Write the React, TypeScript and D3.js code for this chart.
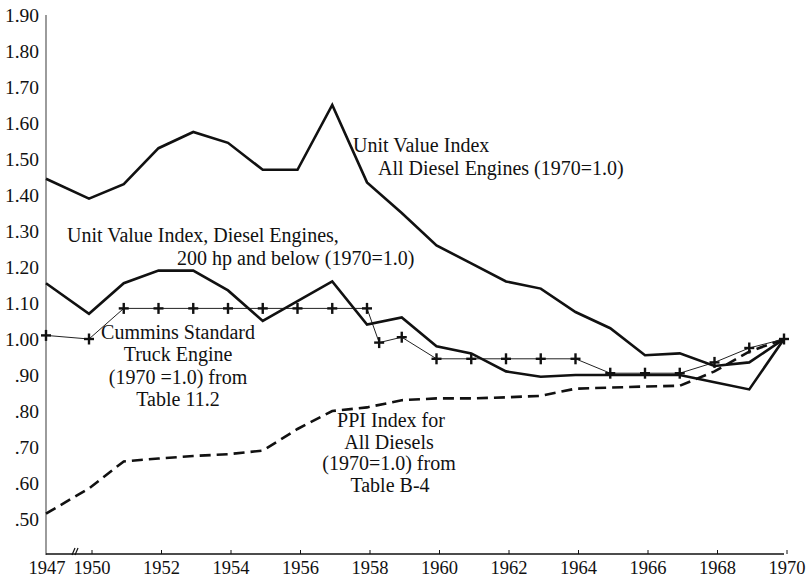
import { useEffect, useRef } from 'react'
import * as d3 from 'd3'

// years on the x axis (1947 then a break to 1950)
const years = [1947, 1950, 1951, 1952, 1953, 1954, 1955, 1956, 1957, 1958, 1959, 1960, 1961, 1962, 1963, 1964, 1965, 1966, 1967, 1968, 1969, 1970]

const allDiesel = [1.445, 1.39, 1.43, 1.53, 1.575, 1.545, 1.47, 1.47, 1.65, 1.435, 1.35, 1.26, 1.21, 1.16, 1.14, 1.075, 1.03, 0.955, 0.96, 0.925, 0.935, 1.0]
const diesel200hp = [1.155, 1.07, 1.155, 1.19, 1.19, 1.135, 1.05, 1.105, 1.16, 1.04, 1.06, 0.98, 0.96, 0.91, 0.895, 0.9, 0.9, 0.9, 0.9, 0.88, 0.86, 1.0]
const ppiDiesels = [0.515, 0.585, 0.66, 0.668, 0.675, 0.68, 0.69, 0.75, 0.8, 0.81, 0.83, 0.835, 0.835, 0.838, 0.842, 0.862, 0.865, 0.868, 0.87, 0.91, 0.965, 1.0]

// Cummins series has two readings in 1958
const cumminsYears = [1947, 1950, 1951, 1952, 1953, 1954, 1955, 1956, 1957, 1958, 1958.35, 1959, 1960, 1961, 1962, 1963, 1964, 1965, 1966, 1967, 1968, 1969, 1970]
const cummins = [1.01, 1.0, 1.085, 1.085, 1.085, 1.085, 1.085, 1.085, 1.085, 1.085, 0.99, 1.005, 0.945, 0.945, 0.945, 0.945, 0.945, 0.905, 0.905, 0.905, 0.935, 0.975, 1.0]

const xTicks = [1947, 1950, 1952, 1954, 1956, 1958, 1960, 1962, 1964, 1966, 1968, 1970]
const yTicks = [1.9, 1.8, 1.7, 1.6, 1.5, 1.4, 1.3, 1.2, 1.1, 1.0, 0.9, 0.8, 0.7, 0.6, 0.5]

const labelAll = ['Unit Value Index', 'All Diesel Engines (1970=1.0)']
const label200 = ['Unit Value Index, Diesel Engines,', '200 hp and below (1970=1.0)']
const labelCummins = ['Cummins Standard', 'Truck Engine', '(1970 =1.0) from', 'Table 11.2']
const labelPpi = ['PPI Index for', 'All Diesels', '(1970=1.0) from', 'Table B-4']

const FONT = 'Liberation Serif, Times New Roman, DejaVu Serif, serif'

export default function App() {
  const svgRef = useRef<SVGSVGElement>(null)

  useEffect(() => {
    if (!svgRef.current) return
    const svg = d3.select(svgRef.current)
    svg.selectAll('*').remove()

    const width = 806
    const height = 578

    svg.attr('width', width).attr('height', height)

    // broken axis: 1947 sits on the y axis, 1950..1970 evenly spaced
    const x = d3.scaleLinear().domain([1947, 1950, 1970]).range([46, 89, 784])
    const y = d3.scaleLinear().domain([0.4, 1.9]).range([555, 15])

    // axes
    svg.append('line')
      .attr('x1', x(1947)).attr('x2', x(1947))
      .attr('y1', y(1.9)).attr('y2', y(0.4))
      .attr('stroke', '#666').attr('stroke-width', 1.3)

    svg.append('line')
      .attr('x1', x(1947)).attr('x2', x(1970))
      .attr('y1', 554).attr('y2', 554)
      .attr('stroke', '#111').attr('stroke-width', 1.6)

    svg.selectAll('.xtick')
      .data(xTicks.filter(d => d !== 1947))
      .enter()
      .append('line')
      .attr('class', 'xtick')
      .attr('x1', d => x(d) + 3).attr('x2', d => x(d) + 3)
      .attr('y1', 554).attr('y2', 550)
      .attr('stroke', '#111').attr('stroke-width', 1)

    // axis break mark
    const bx = (x(1947) + x(1950)) / 2 + 6
    ;[0, 3].forEach(off => {
      svg.append('line')
        .attr('x1', bx + off - 1.5).attr('y1', 555)
        .attr('x2', bx + off + 1.5).attr('y2', 548)
        .attr('stroke', '#111').attr('stroke-width', 1.2)
    })

    svg.selectAll('.xlabel')
      .data(xTicks)
      .enter()
      .append('text')
      .attr('class', 'xlabel')
      .attr('x', d => x(d) + (d === 1947 ? 1 : 3))
      .attr('y', 574)
      .attr('text-anchor', 'middle')
      .attr('font-family', FONT)
      .attr('font-size', 18.5)
      .attr('fill', '#111')
      .text(d => String(d))

    svg.selectAll('.ylabel')
      .data(yTicks)
      .enter()
      .append('text')
      .attr('class', 'ylabel')
      .attr('x', 39)
      .attr('y', d => y(d))
      .attr('dy', '0.36em')
      .attr('text-anchor', 'end')
      .attr('font-family', FONT)
      .attr('font-size', 19.5)
      .attr('fill', '#111')
      .text(d => (d >= 1 ? d.toFixed(2) : d.toFixed(2).slice(1)))

    const line = d3.line<[number, number]>()
      .x(d => x(d[0]))
      .y(d => y(d[1]))

    const zip = (xs: number[], vs: number[]) => xs.map((v, i) => [v, vs[i]] as [number, number])

    // PPI dashed
    svg.append('path')
      .attr('d', line(zip(years, ppiDiesels)))
      .attr('fill', 'none')
      .attr('stroke', '#111')
      .attr('stroke-width', 2.6)
      .attr('stroke-dasharray', '11 6')

    // Cummins thin line with + markers
    const cumminsPts = zip(cumminsYears, cummins)
    svg.append('path')
      .attr('d', line(cumminsPts))
      .attr('fill', 'none')
      .attr('stroke', '#222')
      .attr('stroke-width', 1)

    const marks = svg.selectAll('.plus')
      .data(cumminsPts)
      .enter()
      .append('g')
      .attr('class', 'plus')
      .attr('transform', d => `translate(${x(d[0])},${y(d[1])})`)
    marks.append('line').attr('x1', -5).attr('x2', 5).attr('y1', 0).attr('y2', 0)
      .attr('stroke', '#111').attr('stroke-width', 2.4)
    marks.append('line').attr('x1', 0).attr('x2', 0).attr('y1', -5.5).attr('y2', 5.5)
      .attr('stroke', '#111').attr('stroke-width', 2.4)

    // solid unit value lines
    ;[allDiesel, diesel200hp].forEach(series => {
      svg.append('path')
        .attr('d', line(zip(years, series)))
        .attr('fill', 'none')
        .attr('stroke', '#111')
        .attr('stroke-width', 2.6)
        .attr('stroke-linejoin', 'miter')
    })

    // annotations
    const addLabel = (lines: string[], xs: number[], y0: number, step: number, anchor: string) => {
      svg.append('g')
        .selectAll('text')
        .data(lines)
        .enter()
        .append('text')
        .attr('x', (_, i) => xs[i])
        .attr('y', (_, i) => y0 + i * step)
        .attr('text-anchor', anchor)
        .attr('font-family', FONT)
        .attr('font-size', 20)
        .attr('fill', '#111')
        .text(d => d)
    }

    addLabel(labelAll, [353, 378], 152, 23, 'start')
    addLabel(label200, [67, 177], 242, 23, 'start')
    addLabel(labelCummins, [178, 178, 178, 178], 339, 22.3, 'middle')
    addLabel(labelPpi, [391, 389, 389, 390], 427, 21.7, 'middle')
  }, [])

  return (
    <svg
      ref={svgRef}
      style={{ position: 'absolute', left: 0, top: 0, background: '#fff' }}
    />
  )
}
